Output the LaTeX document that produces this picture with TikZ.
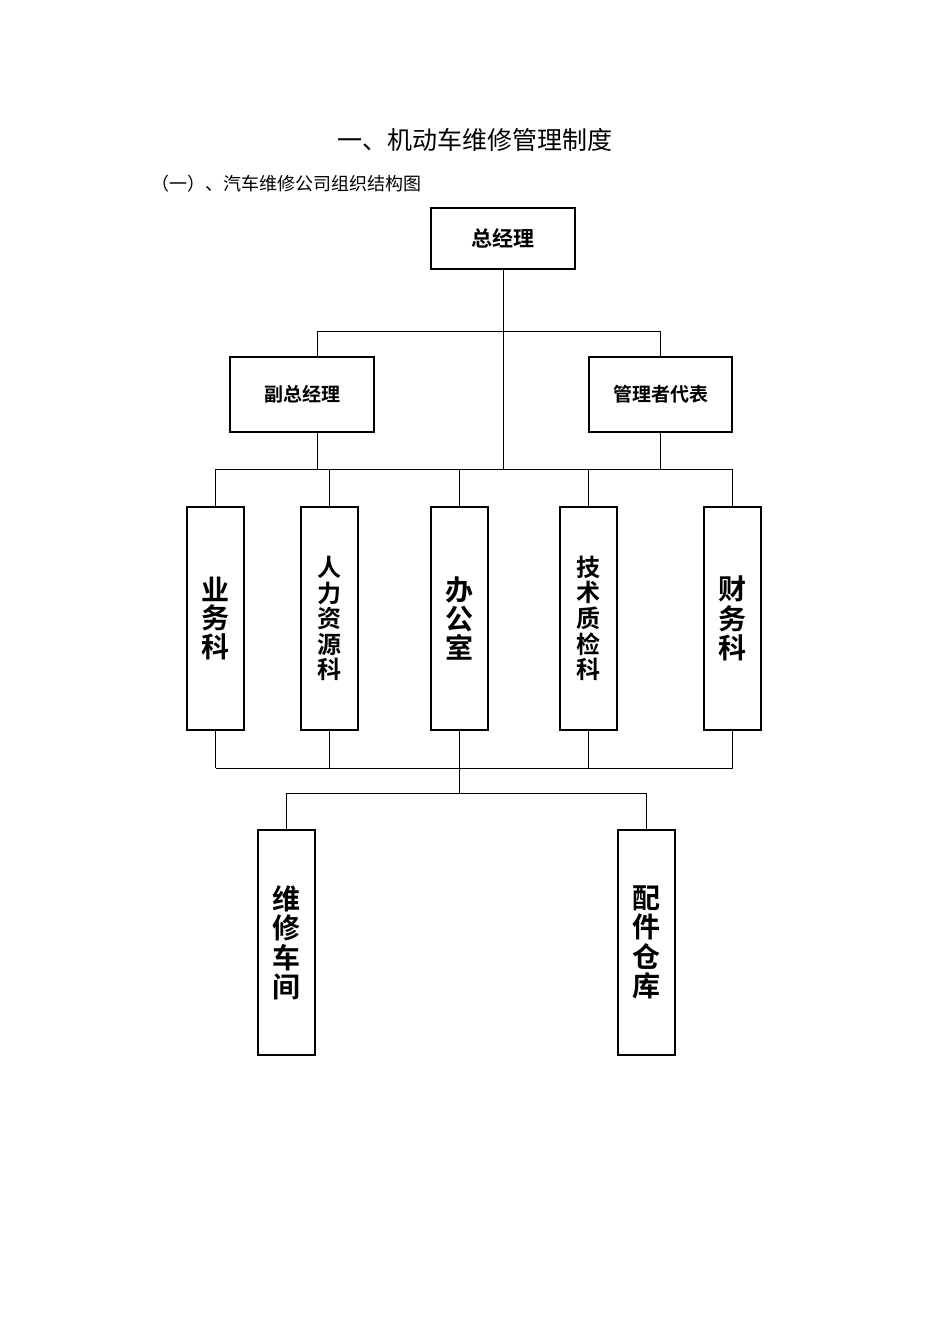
\documentclass[tikz,border=0pt]{standalone}
\usepackage{fontspec}
\newfontfamily\cjk{Noto Sans CJK SC}
\newfontfamily\cjkb{Noto Sans CJK SC Bold}
\begin{document}
\begin{tikzpicture}[x=1pt,y=-1pt,
  box/.style={draw,line width=1.3pt,inner sep=0pt,font=\cjkb},
  ln/.style={line width=0.8pt}]
\useasboundingbox[fill=white] (0,0) rectangle (950,1344);
\node[font=\cjk\fontsize{25}{25}\selectfont] (t1) at (475,140) {一、机动车维修管理制度};
\node[font=\cjk\fontsize{18}{18}\selectfont,anchor=west] (t2) at (148,184) {（一）、汽车维修公司组织结构图};
\newcommand\bx[6]{\node[box,minimum width=#3pt,minimum height=#4pt] (#1) at (#2) {#6#5};}
\bx{zj}{503,238.5}{144}{61}{总经理}{\fontsize{21}{21}\selectfont}
\bx{fz}{302,394.5}{144}{75}{副总经理}{\fontsize{19}{19}\selectfont}
\bx{gl}{660.5,394.5}{143}{75}{管理者代表}{\fontsize{19}{19}\selectfont}
\bx{b1}{215.5,618.5}{57}{223}{\shortstack{业\\务\\科}}{\fontsize{28}{32}\selectfont}
\bx{b2}{329.5,618.5}{57}{223}{\shortstack{人\\力\\资\\源\\科}}{\fontsize{24}{25}\selectfont}
\bx{b3}{459.5,618.5}{57}{223}{\shortstack{办\\公\\室}}{\fontsize{28}{34}\selectfont}
\bx{b4}{588.5,618.5}{57}{223}{\shortstack{技\\术\\质\\检\\科}}{\fontsize{24}{25}\selectfont}
\bx{b5}{732.5,618.5}{57}{223}{\shortstack{财\\务\\科}}{\fontsize{28}{32}\selectfont}
\bx{c1}{286.5,942.5}{57}{225}{\shortstack{维\\修\\车\\间}}{\fontsize{28}{33}\selectfont}
\bx{c2}{646.5,942.5}{57}{225}{\shortstack{配\\件\\仓\\库}}{\fontsize{28}{33}\selectfont}
\coordinate (j1) at (459.5,793);
\draw[ln] (zj.south) -- (503,469);
\draw[ln] (fz.north -| 317,0) -- (317,331) -- (660,331) -- (gl.north -| 660,0);
\draw[ln] (fz.south -| 317,0) -- (317,469);
\draw[ln] (gl.south -| 660,0) -- (660,469);
\draw[ln] (215,469) -- (733,469);
\foreach \b in {b1,b2,b3,b4,b5}{
  \draw[ln] (\b.north) -- (\b.north |- 0,469);
  \draw[ln] (\b.south) -- (\b.south |- 0,768);}
\draw[ln] (b1.south |- 0,768) -- (b5.south |- 0,768);
\draw[ln] (b3.south) -- (j1);
\draw[ln] (c1.north) -- (c1.north |- j1) -- (c2.north |- j1) -- (c2.north);
\end{tikzpicture}
\end{document}
